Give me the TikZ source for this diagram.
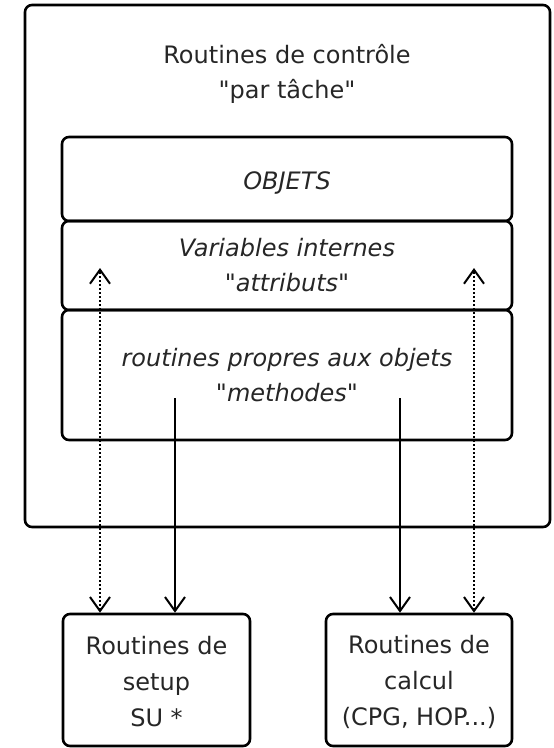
\documentclass[tikz,border=0pt]{standalone}
\usepackage{fontspec}
\setmainfont{DejaVu Sans}[Ligatures=TeXOff]
\usetikzlibrary{arrows.meta}
\begin{document}
\begin{tikzpicture}[x=1pt,y=1pt,
  box/.style={draw, line width=2.6pt, rounded corners=7pt, inner sep=0pt},
  lbl/.style={align=center, text=black!85, font=\fontsize{24}{35}\selectfont},
  ilbl/.style={align=center, text=black!85, font=\fontsize{24}{35}\selectfont\itshape},
  barb/.tip={Straight Barb[length=14pt,width=20pt,line width=2pt]},
  flow/.style={-barb, line width=2.2pt},
  link/.style={barb-barb, line width=2.2pt, dash pattern=on 2pt off 2pt}]
\useasboundingbox (0,0) rectangle (554,-748);

% outer frame: task control routines
\node[box, minimum width=525pt, minimum height=522pt] (ctrl) at (287.5,-266) {};
\node[lbl] (ctrltxt) at (287,-74) {Routines de contrôle\\"par tâche"};

% object block, three stacked compartments
\node[box, minimum width=450pt, minimum height=84pt] (obj) at (287,-179) {};
\node[box, minimum width=450pt, minimum height=89pt] (attr) at (287,-265.5) {};
\node[box, minimum width=450pt, minimum height=130pt] (meth) at (287,-375) {};
\node[ilbl] (objtxt) at (287,-183) {OBJETS};
\node[ilbl] (attrtxt) at (287,-265) {Variables internes\\"attributs"};
\node[ilbl] (methtxt) at (287,-375) {routines propres aux objets\\"methodes"};

% external routine boxes
\node[box, minimum width=187pt, minimum height=132pt] (setup) at (156.5,-680) {};
\node[box, minimum width=186pt, minimum height=132pt] (calc) at (419,-680) {};
\node[lbl, font=\fontsize{24}{36}\selectfont] (setuptxt) at (156.5,-682) {Routines de\\setup\\SU *};
\node[lbl, font=\fontsize{24}{36}\selectfont] (calctxt) at (419,-682) {Routines de\\calcul\\(CPG, HOP...)};

% anchor points for the connectors
\coordinate (m1) at (175,-398);
\coordinate (m2) at (400,-398);
\coordinate (a1) at (100,-268);
\coordinate (a2) at (474,-268);

\draw[flow] (m1) -- (setup.north -| m1);
\draw[flow] (m2) -- (calc.north -| m2);
\draw[link] (setup.north -| a1) -- (a1);
\draw[link] (calc.north -| a2) -- (a2);
\end{tikzpicture}
\end{document}
